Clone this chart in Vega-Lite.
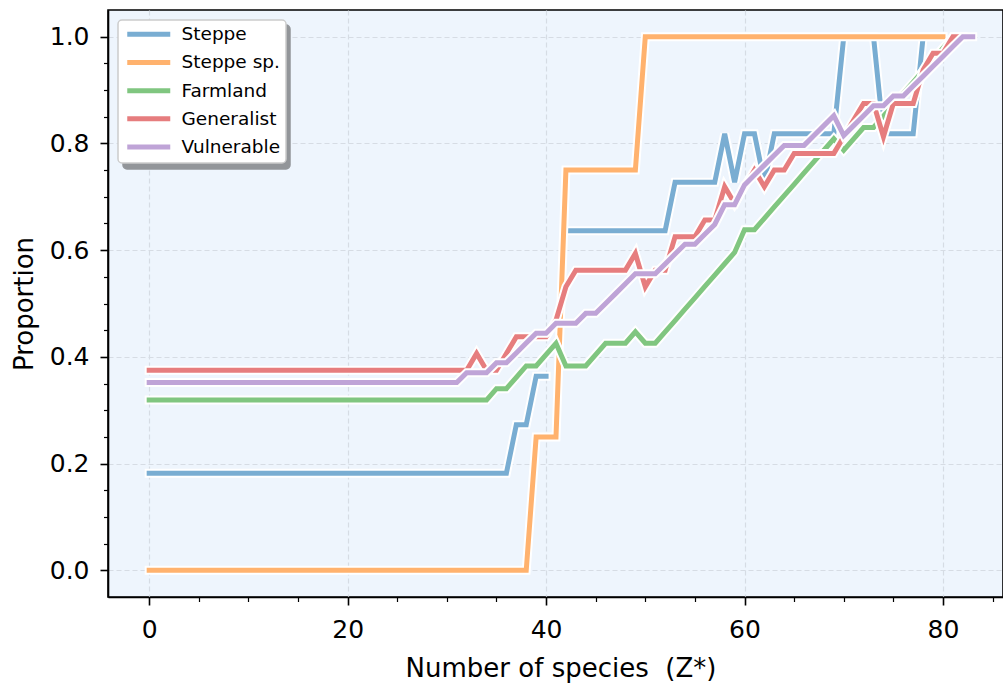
{
  "$schema": "https://vega.github.io/schema/vega-lite/v6.json",
  "width": 895,
  "height": 587,
  "autosize": {"type": "none"},
  "padding": {"left": 108, "top": 10, "right": 0, "bottom": 87},
  "background": "white",
  "datasets": {
    "steppe": [
      {"x":0,"y":0.1818},{"x":1,"y":0.1818},{"x":2,"y":0.1818},{"x":3,"y":0.1818},{"x":4,"y":0.1818},{"x":5,"y":0.1818},{"x":6,"y":0.1818},{"x":7,"y":0.1818},{"x":8,"y":0.1818},{"x":9,"y":0.1818},
      {"x":10,"y":0.1818},{"x":11,"y":0.1818},{"x":12,"y":0.1818},{"x":13,"y":0.1818},{"x":14,"y":0.1818},{"x":15,"y":0.1818},{"x":16,"y":0.1818},{"x":17,"y":0.1818},{"x":18,"y":0.1818},{"x":19,"y":0.1818},
      {"x":20,"y":0.1818},{"x":21,"y":0.1818},{"x":22,"y":0.1818},{"x":23,"y":0.1818},{"x":24,"y":0.1818},{"x":25,"y":0.1818},{"x":26,"y":0.1818},{"x":27,"y":0.1818},{"x":28,"y":0.1818},{"x":29,"y":0.1818},
      {"x":30,"y":0.1818},{"x":31,"y":0.1818},{"x":32,"y":0.1818},{"x":33,"y":0.1818},{"x":34,"y":0.1818},{"x":35,"y":0.1818},{"x":36,"y":0.1818},{"x":37,"y":0.2727},{"x":38,"y":0.2727},{"x":39,"y":0.3636},
      {"x":40,"y":0.3636},{"x":41,"y":null},{"x":42,"y":0.6364},{"x":43,"y":0.6364},{"x":44,"y":0.6364},{"x":45,"y":0.6364},{"x":46,"y":0.6364},{"x":47,"y":0.6364},{"x":48,"y":0.6364},{"x":49,"y":0.6364},
      {"x":50,"y":0.6364},{"x":51,"y":0.6364},{"x":52,"y":0.6364},{"x":53,"y":0.7273},{"x":54,"y":0.7273},{"x":55,"y":0.7273},{"x":56,"y":0.7273},{"x":57,"y":0.7273},{"x":58,"y":0.8182},{"x":59,"y":0.7273},
      {"x":60,"y":0.8182},{"x":61,"y":0.8182},{"x":62,"y":0.7273},{"x":63,"y":0.8182},{"x":64,"y":0.8182},{"x":65,"y":0.8182},{"x":66,"y":0.8182},{"x":67,"y":0.8182},{"x":68,"y":0.8182},{"x":69,"y":0.8182},
      {"x":70,"y":1},{"x":71,"y":1},{"x":72,"y":1},{"x":73,"y":1},{"x":74,"y":0.8182},{"x":75,"y":0.8182},{"x":76,"y":0.8182},{"x":77,"y":0.8182},{"x":78,"y":1},{"x":79,"y":1},
      {"x":80,"y":1}
    ],
    "steppesp": [
      {"x":0,"y":0},{"x":1,"y":0},{"x":2,"y":0},{"x":3,"y":0},{"x":4,"y":0},{"x":5,"y":0},{"x":6,"y":0},{"x":7,"y":0},{"x":8,"y":0},{"x":9,"y":0},
      {"x":10,"y":0},{"x":11,"y":0},{"x":12,"y":0},{"x":13,"y":0},{"x":14,"y":0},{"x":15,"y":0},{"x":16,"y":0},{"x":17,"y":0},{"x":18,"y":0},{"x":19,"y":0},
      {"x":20,"y":0},{"x":21,"y":0},{"x":22,"y":0},{"x":23,"y":0},{"x":24,"y":0},{"x":25,"y":0},{"x":26,"y":0},{"x":27,"y":0},{"x":28,"y":0},{"x":29,"y":0},
      {"x":30,"y":0},{"x":31,"y":0},{"x":32,"y":0},{"x":33,"y":0},{"x":34,"y":0},{"x":35,"y":0},{"x":36,"y":0},{"x":37,"y":0},{"x":38,"y":0},{"x":39,"y":0.25},
      {"x":40,"y":0.25},{"x":41,"y":0.25},{"x":42,"y":0.75},{"x":43,"y":0.75},{"x":44,"y":0.75},{"x":45,"y":0.75},{"x":46,"y":0.75},{"x":47,"y":0.75},{"x":48,"y":0.75},{"x":49,"y":0.75},
      {"x":50,"y":1},{"x":51,"y":1},{"x":52,"y":1},{"x":53,"y":1},{"x":54,"y":1},{"x":55,"y":1},{"x":56,"y":1},{"x":57,"y":1},{"x":58,"y":1},{"x":59,"y":1},
      {"x":60,"y":1},{"x":61,"y":1},{"x":62,"y":1},{"x":63,"y":1},{"x":64,"y":1},{"x":65,"y":1},{"x":66,"y":1},{"x":67,"y":1},{"x":68,"y":1},{"x":69,"y":1},
      {"x":70,"y":1},{"x":71,"y":1},{"x":72,"y":1},{"x":73,"y":1},{"x":74,"y":1},{"x":75,"y":1},{"x":76,"y":1},{"x":77,"y":1},{"x":78,"y":1},{"x":79,"y":1},
      {"x":80,"y":1}
    ],
    "farmland": [
      {"x":0,"y":0.3191},{"x":1,"y":0.3191},{"x":2,"y":0.3191},{"x":3,"y":0.3191},{"x":4,"y":0.3191},{"x":5,"y":0.3191},{"x":6,"y":0.3191},{"x":7,"y":0.3191},{"x":8,"y":0.3191},{"x":9,"y":0.3191},
      {"x":10,"y":0.3191},{"x":11,"y":0.3191},{"x":12,"y":0.3191},{"x":13,"y":0.3191},{"x":14,"y":0.3191},{"x":15,"y":0.3191},{"x":16,"y":0.3191},{"x":17,"y":0.3191},{"x":18,"y":0.3191},{"x":19,"y":0.3191},
      {"x":20,"y":0.3191},{"x":21,"y":0.3191},{"x":22,"y":0.3191},{"x":23,"y":0.3191},{"x":24,"y":0.3191},{"x":25,"y":0.3191},{"x":26,"y":0.3191},{"x":27,"y":0.3191},{"x":28,"y":0.3191},{"x":29,"y":0.3191},
      {"x":30,"y":0.3191},{"x":31,"y":0.3191},{"x":32,"y":0.3191},{"x":33,"y":0.3191},{"x":34,"y":0.3191},{"x":35,"y":0.3404},{"x":36,"y":0.3404},{"x":37,"y":0.3617},{"x":38,"y":0.3830},{"x":39,"y":0.3830},
      {"x":40,"y":0.4043},{"x":41,"y":0.4255},{"x":42,"y":0.3830},{"x":43,"y":0.3830},{"x":44,"y":0.3830},{"x":45,"y":0.4043},{"x":46,"y":0.4255},{"x":47,"y":0.4255},{"x":48,"y":0.4255},{"x":49,"y":0.4468},
      {"x":50,"y":0.4255},{"x":51,"y":0.4255},{"x":52,"y":0.4468},{"x":53,"y":0.4681},{"x":54,"y":0.4894},{"x":55,"y":0.5106},{"x":56,"y":0.5319},{"x":57,"y":0.5532},{"x":58,"y":0.5745},{"x":59,"y":0.5957},
      {"x":60,"y":0.6383},{"x":61,"y":0.6383},{"x":62,"y":0.6596},{"x":63,"y":0.6809},{"x":64,"y":0.7021},{"x":65,"y":0.7234},{"x":66,"y":0.7447},{"x":67,"y":0.7660},{"x":68,"y":0.7872},{"x":69,"y":0.8085},
      {"x":70,"y":0.7872},{"x":71,"y":0.8085},{"x":72,"y":0.8298},{"x":73,"y":0.8298},{"x":74,"y":0.8511},{"x":75,"y":0.8723},{"x":76,"y":0.8936},{"x":77,"y":0.9149},{"x":78,"y":0.9362},{"x":79,"y":0.9574},
      {"x":80,"y":0.9787},{"x":81,"y":1},{"x":82,"y":1}
    ],
    "generalist": [
      {"x":0,"y":0.375},{"x":1,"y":0.375},{"x":2,"y":0.375},{"x":3,"y":0.375},{"x":4,"y":0.375},{"x":5,"y":0.375},{"x":6,"y":0.375},{"x":7,"y":0.375},{"x":8,"y":0.375},{"x":9,"y":0.375},
      {"x":10,"y":0.375},{"x":11,"y":0.375},{"x":12,"y":0.375},{"x":13,"y":0.375},{"x":14,"y":0.375},{"x":15,"y":0.375},{"x":16,"y":0.375},{"x":17,"y":0.375},{"x":18,"y":0.375},{"x":19,"y":0.375},
      {"x":20,"y":0.375},{"x":21,"y":0.375},{"x":22,"y":0.375},{"x":23,"y":0.375},{"x":24,"y":0.375},{"x":25,"y":0.375},{"x":26,"y":0.375},{"x":27,"y":0.375},{"x":28,"y":0.375},{"x":29,"y":0.375},
      {"x":30,"y":0.375},{"x":31,"y":0.375},{"x":32,"y":0.375},{"x":33,"y":0.4063},{"x":34,"y":0.375},{"x":35,"y":0.375},{"x":36,"y":0.4063},{"x":37,"y":0.4375},{"x":38,"y":0.4375},{"x":39,"y":0.4375},
      {"x":40,"y":0.4375},{"x":41,"y":0.4688},{"x":42,"y":0.5313},{"x":43,"y":0.5625},{"x":44,"y":0.5625},{"x":45,"y":0.5625},{"x":46,"y":0.5625},{"x":47,"y":0.5625},{"x":48,"y":0.5625},{"x":49,"y":0.5938},
      {"x":50,"y":0.5313},{"x":51,"y":0.5625},{"x":52,"y":0.5625},{"x":53,"y":0.625},{"x":54,"y":0.625},{"x":55,"y":0.625},{"x":56,"y":0.6563},{"x":57,"y":0.6563},{"x":58,"y":0.7188},{"x":59,"y":0.6875},
      {"x":60,"y":0.7188},{"x":61,"y":0.75},{"x":62,"y":0.7188},{"x":63,"y":0.75},{"x":64,"y":0.75},{"x":65,"y":0.7813},{"x":66,"y":0.7813},{"x":67,"y":0.7813},{"x":68,"y":0.7813},{"x":69,"y":0.7813},
      {"x":70,"y":0.8125},{"x":71,"y":0.8438},{"x":72,"y":0.875},{"x":73,"y":0.875},{"x":74,"y":0.8125},{"x":75,"y":0.875},{"x":76,"y":0.875},{"x":77,"y":0.875},{"x":78,"y":0.9375},{"x":79,"y":0.9688},
      {"x":80,"y":0.9688},{"x":81,"y":1},{"x":82,"y":1}
    ],
    "vulnerable": [
      {"x":0,"y":0.3519},{"x":1,"y":0.3519},{"x":2,"y":0.3519},{"x":3,"y":0.3519},{"x":4,"y":0.3519},{"x":5,"y":0.3519},{"x":6,"y":0.3519},{"x":7,"y":0.3519},{"x":8,"y":0.3519},{"x":9,"y":0.3519},
      {"x":10,"y":0.3519},{"x":11,"y":0.3519},{"x":12,"y":0.3519},{"x":13,"y":0.3519},{"x":14,"y":0.3519},{"x":15,"y":0.3519},{"x":16,"y":0.3519},{"x":17,"y":0.3519},{"x":18,"y":0.3519},{"x":19,"y":0.3519},
      {"x":20,"y":0.3519},{"x":21,"y":0.3519},{"x":22,"y":0.3519},{"x":23,"y":0.3519},{"x":24,"y":0.3519},{"x":25,"y":0.3519},{"x":26,"y":0.3519},{"x":27,"y":0.3519},{"x":28,"y":0.3519},{"x":29,"y":0.3519},
      {"x":30,"y":0.3519},{"x":31,"y":0.3519},{"x":32,"y":0.3704},{"x":33,"y":0.3704},{"x":34,"y":0.3704},{"x":35,"y":0.3889},{"x":36,"y":0.3889},{"x":37,"y":0.4074},{"x":38,"y":0.4259},{"x":39,"y":0.4444},
      {"x":40,"y":0.4444},{"x":41,"y":0.4630},{"x":42,"y":0.4630},{"x":43,"y":0.4630},{"x":44,"y":0.4815},{"x":45,"y":0.4815},{"x":46,"y":0.5},{"x":47,"y":0.5185},{"x":48,"y":0.5370},{"x":49,"y":0.5556},
      {"x":50,"y":0.5556},{"x":51,"y":0.5556},{"x":52,"y":0.5741},{"x":53,"y":0.5926},{"x":54,"y":0.6111},{"x":55,"y":0.6111},{"x":56,"y":0.6296},{"x":57,"y":0.6481},{"x":58,"y":0.6852},{"x":59,"y":0.6852},
      {"x":60,"y":0.7222},{"x":61,"y":0.7407},{"x":62,"y":0.7593},{"x":63,"y":0.7778},{"x":64,"y":0.7963},{"x":65,"y":0.7963},{"x":66,"y":0.7963},{"x":67,"y":0.8148},{"x":68,"y":0.8333},{"x":69,"y":0.8519},
      {"x":70,"y":0.8148},{"x":71,"y":0.8333},{"x":72,"y":0.8519},{"x":73,"y":0.8704},{"x":74,"y":0.8704},{"x":75,"y":0.8889},{"x":76,"y":0.8889},{"x":77,"y":0.9074},{"x":78,"y":0.9259},{"x":79,"y":0.9444},
      {"x":80,"y":0.9630},{"x":81,"y":0.9815},{"x":82,"y":1},{"x":83,"y":1}
    ]
  },
  "encoding": {
    "x": {
      "field": "x", "type": "quantitative",
      "scale": {"domain": [-4.15, 86.05], "nice": false, "zero": false},
      "axis": {
        "title": "Number of species\u00a0\u00a0(Z*)",
        "values": [0,5,10,15,20,25,30,35,40,45,50,55,60,65,70,75,80,85],
        "labelExpr": "datum.value % 20 === 0 ? datum.label : ''",
        "tickSize": {"condition": {"test": "datum.value % 20 === 0", "value": 8}, "value": 4.5},
        "tickWidth": {"condition": {"test": "datum.value % 20 === 0", "value": 1.6}, "value": 1.2},
        "gridOpacity": {"condition": {"test": "datum.value % 20 === 0", "value": 1}, "value": 0},
        "labelPadding": 12,
        "titlePadding": 13,
        "titleX": 452.5
      }
    },
    "y": {
      "field": "y", "type": "quantitative",
      "scale": {"domain": [-0.05, 1.05], "nice": false, "zero": false},
      "axis": {
        "title": "Proportion",
        "values": [0,0.05,0.1,0.15,0.2,0.25,0.3,0.35,0.4,0.45,0.5,0.55,0.6,0.65,0.7,0.75,0.8,0.85,0.9,0.95,1],
        "format": ".1f",
        "labelExpr": "round(datum.value*100) % 20 === 0 ? datum.label : ''",
        "tickSize": {"condition": {"test": "round(datum.value*100) % 20 === 0", "value": 8}, "value": 4.5},
        "tickWidth": {"condition": {"test": "round(datum.value*100) % 20 === 0", "value": 1.6}, "value": 1.2},
        "gridOpacity": {"condition": {"test": "round(datum.value*100) % 20 === 0", "value": 1}, "value": 0},
        "labelPadding": 11,
        "titlePadding": 12
      }
    }
  },
  "layer": [
    {"data": {"name": "steppe"}, "mark": {"type": "point", "opacity": 0},
     "encoding": {"shape": {"datum": "s1", "type": "nominal",
       "scale": {"domain": ["s1", "s2", "s3", "s4", "s5"], "range": ["circle", "circle", "circle", "circle", "circle"]},
       "legend": {"title": null, "orient": "none", "legendX": 15, "legendY": 15, "fillColor": "#929599", "strokeColor": "#929599", "labelExpr": "''", "labelOffset": 138, "rowPadding": 9.7, "symbolOpacity": 0, "symbolStrokeWidth": 0, "zindex": 2}}}},
    {"data": {"name": "steppe"}, "mark": {"type": "line", "stroke": "white", "strokeWidth": 9, "strokeCap": "square", "strokeJoin": "miter", "invalid": "break-paths-show-domains"}},
    {"data": {"name": "steppe"}, "mark": {"type": "line", "strokeWidth": 5, "strokeCap": "square", "strokeJoin": "miter", "invalid": "break-paths-show-domains"},
     "encoding": {"color": {"datum": "Steppe", "type": "nominal",
       "scale": {"domain": ["Steppe", "Steppe sp.", "Farmland", "Generalist", "Vulnerable"], "range": ["#79add2", "#ffb26e", "#80c680", "#e67d7e", "#bfa4d7"]},
       "legend": {"title": null, "orient": "none", "legendX": 10, "legendY": 10, "zindex": 3}}}},
    {"data": {"name": "steppesp"}, "mark": {"type": "line", "stroke": "white", "strokeWidth": 9, "strokeCap": "square", "strokeJoin": "miter", "invalid": "break-paths-show-domains"}},
    {"data": {"name": "steppesp"}, "mark": {"type": "line", "strokeWidth": 5, "strokeCap": "square", "strokeJoin": "miter", "invalid": "break-paths-show-domains"},
     "encoding": {"color": {"datum": "Steppe sp.", "type": "nominal"}}},
    {"data": {"name": "farmland"}, "mark": {"type": "line", "stroke": "white", "strokeWidth": 9, "strokeCap": "square", "strokeJoin": "miter", "invalid": "break-paths-show-domains"}},
    {"data": {"name": "farmland"}, "mark": {"type": "line", "strokeWidth": 5, "strokeCap": "square", "strokeJoin": "miter", "invalid": "break-paths-show-domains"},
     "encoding": {"color": {"datum": "Farmland", "type": "nominal"}}},
    {"data": {"name": "generalist"}, "mark": {"type": "line", "stroke": "white", "strokeWidth": 9, "strokeCap": "square", "strokeJoin": "miter", "invalid": "break-paths-show-domains"}},
    {"data": {"name": "generalist"}, "mark": {"type": "line", "strokeWidth": 5, "strokeCap": "square", "strokeJoin": "miter", "invalid": "break-paths-show-domains"},
     "encoding": {"color": {"datum": "Generalist", "type": "nominal"}}},
    {"data": {"name": "vulnerable"}, "mark": {"type": "line", "stroke": "white", "strokeWidth": 9, "strokeCap": "square", "strokeJoin": "miter", "invalid": "break-paths-show-domains"}},
    {"data": {"name": "vulnerable"}, "mark": {"type": "line", "strokeWidth": 5, "strokeCap": "square", "strokeJoin": "miter", "invalid": "break-paths-show-domains"},
     "encoding": {"color": {"datum": "Vulnerable", "type": "nominal"}}}
  ],
  "config": {
    "font": "DejaVu Sans",
    "view": {"fill": "#eef5fd", "stroke": "black", "strokeWidth": 1.6},
    "axis": {
      "grid": true,
      "gridColor": "#d6dce4",
      "gridDash": [5, 3],
      "gridWidth": 1.2,
      "domain": true,
      "domainColor": "black",
      "domainWidth": 1.6,
      "tickColor": "black",
      "labelFont": "DejaVu Sans",
      "labelFontSize": 25,
      "labelColor": "black",
      "labelFlush": false,
      "labelOverlap": false,
      "titleFont": "DejaVu Sans",
      "titleFontSize": 26,
      "titleFontWeight": "normal",
      "titleColor": "black"
    },
    "legend": {
      "orient": "none",
      "fillColor": "white",
      "strokeColor": "#cccccc",
      "strokeWidth": 1.5,
      "cornerRadius": 4,
      "padding": 5,
      "symbolType": "M-1,0H7.6",
      "symbolStrokeWidth": 5,
      "symbolSize": 100,
      "labelFont": "DejaVu Sans",
      "labelFontSize": 18.5,
      "labelColor": "black",
      "labelOffset": 40,
      "rowPadding": 7.2
    }
  }
}
